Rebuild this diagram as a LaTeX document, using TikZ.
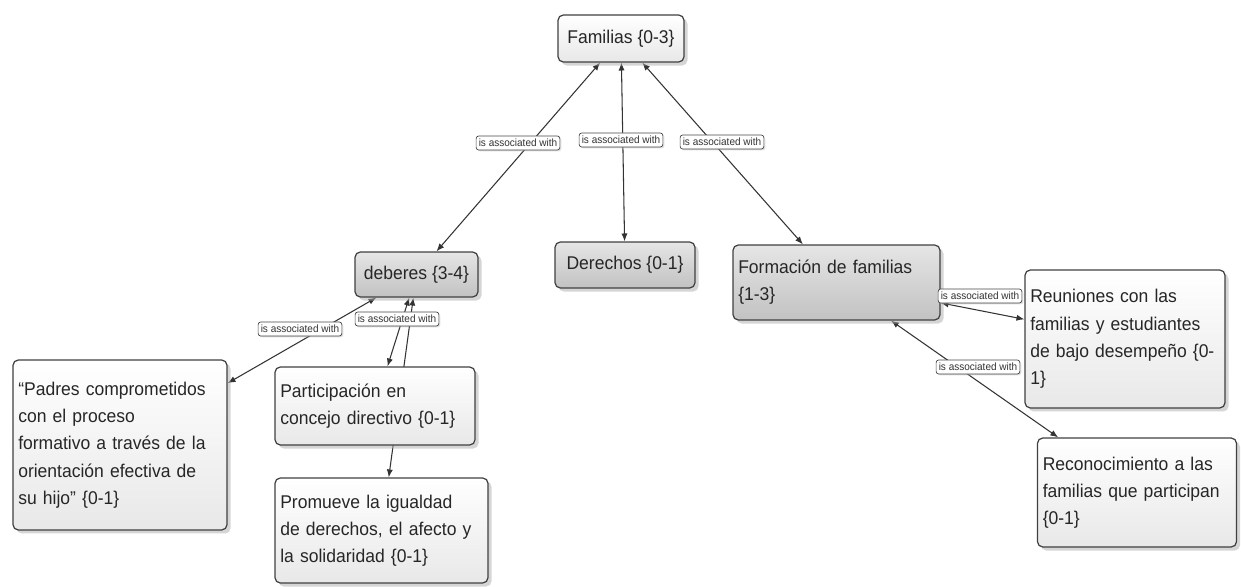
\documentclass[tikz,border=0pt]{standalone}
\usepackage{fontspec}
\setmainfont[FakeStretch=0.95]{Liberation Sans}
\usetikzlibrary{arrows.meta,shadows,backgrounds}

\begin{document}
\begin{tikzpicture}[
                x=0.02cm, y=-0.02cm,
                concept/.style={
                    draw=gray!50!black,
                    line width=0.7pt,
                    rectangle,
                    rounded corners=3pt,
                    top color=white,
                    bottom color=gray!18,
                    drop shadow={shadow xshift=2pt, shadow yshift=-2pt, fill=gray!65},
                    align=left,
                    inner xsep=3pt,
                    inner ysep=3pt,
                    text=black!85,
                    font=\fontsize{10.5}{15.5}\selectfont
                },
                darkconcept/.style={
                    concept,
                    top color=gray!20,
                    bottom color=gray!48
                },
                linklabel/.style={
                    draw=gray!55!black,
                    fill=white,
                    rectangle,
                    rounded corners=1.5pt,
                    line width=0.4pt,
                    inner xsep=1.5pt,
                    inner ysep=1pt,
                    minimum height=0.28cm,
                    drop shadow={shadow xshift=0.8pt, shadow yshift=-0.8pt, fill=gray!50},
                    text=black!80,
                    font=\fontsize{6}{7}\selectfont
                },
                link/.style={
                    {Latex[length=4.5pt,width=3.5pt]}-{Latex[length=4.5pt,width=3.5pt]},
                    line width=0.6pt,
                    draw=black!80
                }
            ]
                \useasboundingbox (0,0) rectangle (1241,587);

                \node[concept, align=center, minimum width=2.52cm, minimum height=0.94cm] (fam) at (621,38.5) {Familias \{0-3\}};
                \node[darkconcept, align=center, minimum width=2.46cm, minimum height=0.9cm] (deb) at (416.5,274.5) {deberes \{3-4\}};
                \node[darkconcept, align=center, minimum width=2.8cm, minimum height=0.92cm] (der) at (625,265) {Derechos \{0-1\}};
                \node[darkconcept, text width=3.93cm, minimum height=1.5cm] (form) at (836.5,282.5) {Formación de familias\\\{1-3\}};
                \node[concept, text width=3.79cm, minimum height=2.76cm] (reun) at (1125,339) {Reuniones con las\\familias y estudiantes\\de bajo desempeño \{0-\\1\}};
                \node[concept, text width=4.07cm, minimum height=3.4cm] (pad) at (120,445) {``Padres comprometidos\\con el proceso\\formativo a través de la\\orientación efectiva de\\su hijo'' \{0-1\}};
                \node[concept, text width=3.79cm, minimum height=1.56cm] (par) at (375,406) {Participación en\\concejo directivo \{0-1\}};
                \node[concept, text width=4.05cm, minimum height=2.1cm] (prom) at (381.5,530.5) {Promueve la igualdad\\de derechos, el afecto y\\la solidaridad \{0-1\}};
                \node[concept, text width=3.77cm, minimum height=2.18cm] (rec) at (1137,492.5) {Reconocimiento a las\\familias que participan\\\{0-1\}};

                \node[linklabel] (l1) at (518,143) {is associated with};
                \node[linklabel] (l2) at (621,140) {is associated with};
                \node[linklabel] (l3) at (722,142) {is associated with};
                \node[linklabel] (l4) at (300,329) {is associated with};
                \node[linklabel] (l5) at (397,319) {is associated with};
                \node[linklabel] (l6) at (980,296) {is associated with};
                \node[linklabel] (l7) at (978,367) {is associated with};

                \begin{scope}[on background layer]
                \draw[link] (fam) -- (deb);
                \draw[link] (fam) -- (der);
                \draw[link] (fam) -- (form);
                \draw[link] (deb) -- (pad);
                \draw[link] (deb) -- (par);
                \draw[link] (deb) -- (prom);
                \draw[link] (form) -- (reun);
                \draw[link] (form) -- (rec);
                \end{scope}
        \end{tikzpicture}
\end{document}
